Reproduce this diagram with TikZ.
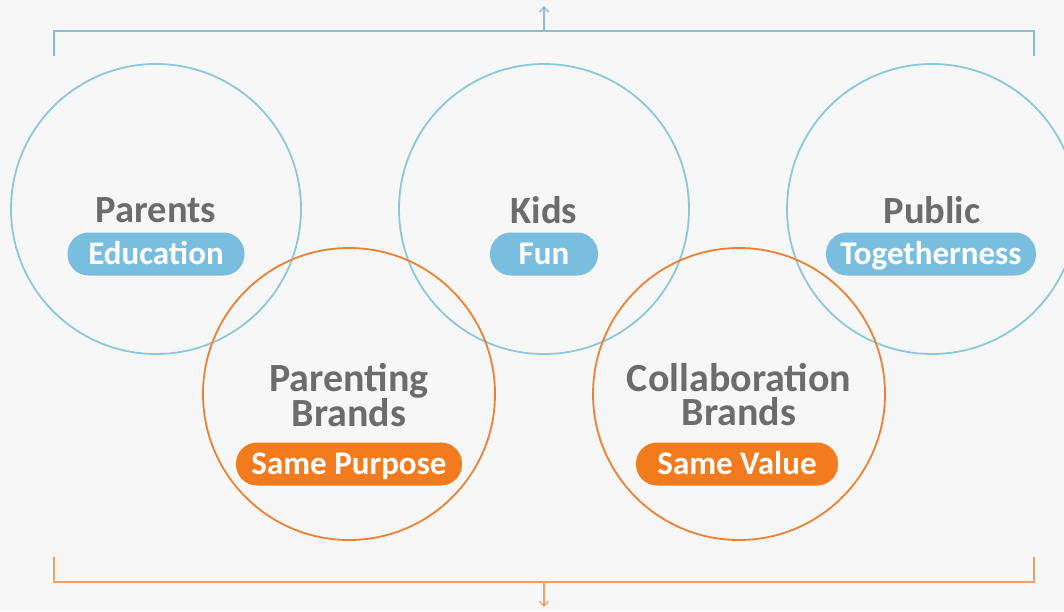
\documentclass[tikz,border=0pt]{standalone}
\usepackage{fontspec}
\setmainfont{Carlito}
\usetikzlibrary{arrows.meta}

\begin{document}
\begin{tikzpicture}[
  x=1pt, y=-1pt,
  ring/.style={
    circle,
    minimum size=290pt,
    line width=1.8pt,
  },
  title/.style={
    text=greyish,
    font=\fontsize{38.5}{34}\selectfont\bfseries,
    align=center,
  },
  pill/.style={
    text=white,
    font=\fontsize{33}{33}\selectfont\bfseries,
    rounded corners=21pt,
    minimum height=43pt,
    text height=22pt,
    text depth=1pt,
    inner xsep=0pt,
  },
  bracket/.style={
    line width=1.3pt,
  },
]
  \definecolor{bgrey}{RGB}{247,247,247}
  \definecolor{blueish}{RGB}{140,200,220}
  \definecolor{bluefill}{RGB}{122,190,223}
  \definecolor{orangish}{RGB}{238,128,50}
  \definecolor{orangefill}{RGB}{244,122,30}
  \definecolor{greyish}{RGB}{108,108,108}
  \definecolor{bluebracket}{RGB}{140,188,208}
  \definecolor{orangebracket}{RGB}{240,160,100}

  \fill[bgrey] (0,0) rectangle (1064,611);
  \useasboundingbox (0,0) rectangle (1064,611);

  % blue circles
  \node[ring, draw=blueish] (parents) at (156,209) {};
  \node[ring, draw=blueish] (kids) at (544,209) {};
  \node[ring, draw=blueish] (public) at (932,209) {};

  % orange circles
  \node[ring, draw=orangish, minimum size=292pt] (parenting) at (349,394) {};
  \node[ring, draw=orangish, minimum size=292pt] (collab) at (739,394) {};

  % titles
  \node[title] (parentsT) at (156,210) {Parents};
  \node[title] (kidsT) at (544,210) {Kids};
  \node[title] (publicT) at (932,210) {Public};
  \node[title, font=\fontsize{40}{34}\selectfont\bfseries] (parentingT) at (349,395) {Parenting\\Brands};
  \node[title, font=\fontsize{40}{34}\selectfont\bfseries] (collabT) at (739,395) {Collaboration\\Brands};

  % pills
  \node[pill, fill=bluefill, minimum width=177pt] (edu) at (156,254) {Education};
  \node[pill, fill=bluefill, minimum width=108pt] (fun) at (544,254) {Fun};
  \node[pill, fill=bluefill, minimum width=210pt] (together) at (931,254) {Togetherness};
  \node[pill, fill=orangefill, minimum width=226pt] (purpose) at (349,464) {Same Purpose};
  \node[pill, fill=orangefill, minimum width=202pt] (value) at (737,464) {Same Value};

  % brackets
  \coordinate (topmid) at (544,31);
  \coordinate (topend) at (544,6);
  \coordinate (botmid) at (544,582);
  \coordinate (botend) at (544,607);
  \draw[bracket, draw=bluebracket] (54,56) -- (54,31) -- (1034,31) -- (1034,56);
  \draw[bracket, draw=bluebracket, -{Straight Barb[length=5pt, width=9pt]}] (topmid) -- (topend);
  \draw[bracket, draw=orangebracket] (54,557) -- (54,582) -- (1034,582) -- (1034,557);
  \draw[bracket, draw=orangebracket, -{Straight Barb[length=5pt, width=9pt]}] (botmid) -- (botend);
\end{tikzpicture}
\end{document}
